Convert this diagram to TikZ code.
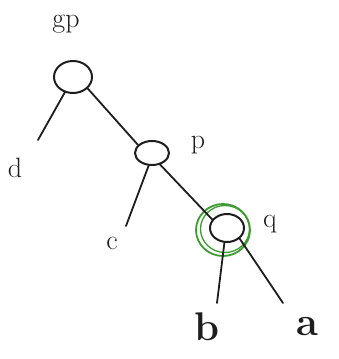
\documentclass[tikz,border=0pt]{standalone}
\usetikzlibrary{shapes.geometric}
\definecolor{ink}{HTML}{1E1E1E}
\definecolor{marker}{HTML}{3E9B34}

\begin{document}
\begin{tikzpicture}[x=1pt, y=-1pt,
  knot/.style={draw=ink, ellipse, line width=2pt, inner sep=0pt},
  ring/.style={draw=marker, ellipse, inner sep=0pt},
  edge/.style={draw=ink, line width=1.8pt, line cap=round},
  lbl/.style={text=ink, font=\fontsize{28}{30}\selectfont},
  leaf/.style={text=ink, font=\fontsize{40}{40}\selectfont\bfseries}]

% Background
\useasboundingbox (0,0) rectangle (338,359);
\fill[white] (0,0) rectangle (338,359);

% Inner nodes
\node[knot, minimum width=38pt, minimum height=32pt] (gp) at (73,77) {};
\node[knot, minimum width=34pt, minimum height=24pt] (p) at (152,153) {};
\node[knot, minimum width=34pt, minimum height=28pt] (q) at (227,228) {};

% Marked node
\node[ring, line width=1.8pt, minimum width=54pt, minimum height=52pt] (ring1) at (223,230) {};
\node[ring, line width=1.3pt, minimum width=49pt, minimum height=47pt] (ring2) at (225,229) {};

% Labels
\node[lbl] (gplbl) at (66,24) {gp};
\node[lbl] (plbl) at (198,145) {p};
\node[lbl] (qlbl) at (270,224) {q};

% Leaves
\node[lbl] (d) at (15,168) {d};
\node[lbl] (c) at (112,243) {c};
\node[leaf] (b) at (207,327) {b};
\node[leaf] (a) at (307,327) {a};

% Edge ends
\coordinate (dEnd) at (38,140);
\coordinate (cEnd) at (126,226);
\coordinate (bEnd) at (217,303);
\coordinate (aEnd) at (283,303);

% Edges
\draw[edge] (gp.-118) -- (dEnd);
\draw[edge] (gp.-38) -- (p.150);
\draw[edge] (p.-105) -- (cEnd);
\draw[edge] (p.-55) -- (q.150);
\draw[edge] (q.-100) -- (bEnd);
\draw[edge] (q.-40) -- (aEnd);

\end{tikzpicture}
\end{document}
